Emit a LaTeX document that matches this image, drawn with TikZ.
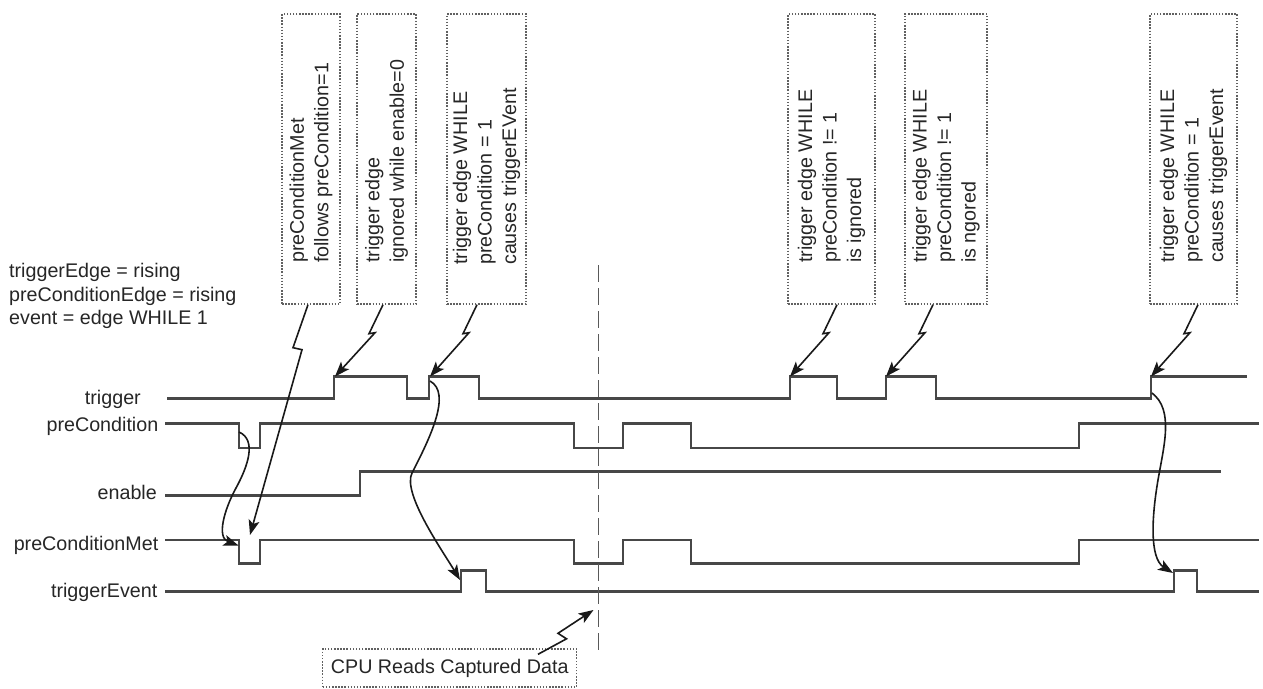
\documentclass[tikz,border=0pt]{standalone}
\usepackage{fontspec}
\setmainfont{Liberation Sans}
\usetikzlibrary{arrows.meta,calc}
\begin{document}
\begin{tikzpicture}[x=1pt,y=-1pt,
  wave/.style={draw=black!72, line width=2.1pt, line join=miter},
  txt/.style={font=\fontsize{19.7}{24.5}\selectfont, text=black!85, inner sep=0pt},
  callbox/.style={draw=black!62, line width=1.4pt, dash pattern=on 1.5pt off 1.6pt, inner sep=0pt, minimum height=290pt},
  ctext/.style={txt, rotate=90, anchor=west, align=left},
  ptr/.style={draw=black!90, line width=1.6pt, line join=miter, -{Stealth[length=15pt,width=11pt,inset=3.5pt]}},
  cpuline/.style={draw=black!65, line width=1.8pt, dash pattern=on 17pt off 6pt},
]
\useasboundingbox (0,0) rectangle (1263,688);

% ---------- notes ----------
\node[txt, anchor=base west, align=left, font=\fontsize{19.7}{23.5}\selectfont] (note) at (9,324.7)
  {triggerEdge = rising\\preConditionEdge = rising\\event = edge WHILE 1};

% ---------- signal labels ----------
\node[txt, anchor=base east] (ltrig) at (141,404.5) {trigger};
\node[txt, anchor=base east] (lpc) at (158.5,431.5) {preCondition};
\node[txt, anchor=base east] (len) at (157,499) {enable};
\node[txt, anchor=base east] (lpcm) at (158.5,550) {preConditionMet};
\node[txt, anchor=base east] (lte) at (157.5,597) {triggerEvent};

% ---------- waveforms ----------
\draw[wave] (167,398.5) -- (334,398.5) -- (334,376.5) -- (407,376.5) -- (407,398.5) -- (429,398.5) -- (429,376.5) -- (479,376.5) -- (479,398.5)
  -- (790,398.5) -- (790,376.5) -- (837,376.5) -- (837,398.5) -- (886,398.5) -- (886,376.5) -- (936,376.5) -- (936,398.5)
  -- (1151,398.5) -- (1151,376.5) -- (1247,376.5);
\draw[wave] (165,423.5) -- (239,423.5) -- (239,448) -- (260,448) -- (260,423.5) -- (574,423.5) -- (574,448) -- (623,448) -- (623,423.5)
  -- (691,423.5) -- (691,448) -- (1079,448) -- (1079,423.5) -- (1259,423.5);
\draw[wave] (165,495.5) -- (360,495.5) -- (360,471.5) -- (1221,471.5);
\draw[wave] (165,540) -- (239,540) -- (239,563.5) -- (260,563.5) -- (260,540) -- (574,540) -- (574,563.5) -- (623,563.5) -- (623,540)
  -- (691,540) -- (691,563.5) -- (1079,563.5) -- (1079,540) -- (1259,540);
\draw[wave] (165,591.5) -- (461,591.5) -- (461,570.5) -- (486,570.5) -- (486,591.5) -- (1174,591.5) -- (1174,570.5) -- (1197,570.5) -- (1197,591.5) -- (1259,591.5);

% ---------- key points on the waveforms ----------
\coordinate (e1) at (250,535);      % preConditionMet, arrow target
\coordinate (e2) at (335,376.5);    % trigger rise 1
\coordinate (e3) at (430,376.5);    % trigger rise 2
\coordinate (e4) at (790,376.5);    % trigger rise 3
\coordinate (e5) at (886,376.5);    % trigger rise 4
\coordinate (e6) at (1151,376.5);   % trigger rise 5
\coordinate (pcf) at (239,432);     % preCondition fall
\coordinate (pcmf) at (238.5,545.5);% preConditionMet fall
\coordinate (tr2) at (430,381);
\coordinate (te1) at (460,580);
\coordinate (tr5) at (1152,393);
\coordinate (te2) at (1173,573);

% ---------- capture line ----------
\coordinate (dtop) at (598.5,265);
\coordinate (dbot) at (598.5,652);
\draw[cpuline] (dtop) -- (dbot);
\coordinate (e7) at (593.5,610);

% ---------- callout boxes ----------
\node[callbox, minimum width=58pt] (b1) at (311,159) {};
\node[callbox, minimum width=59pt] (b2) at (386.5,159) {};
\node[callbox, minimum width=79pt] (b3) at (486.5,159) {};
\node[callbox, minimum width=87pt] (b4) at (831.5,159) {};
\node[callbox, minimum width=82pt] (b5) at (946,159) {};
\node[callbox, minimum width=87pt] (b6) at (1193.5,159) {};

\node[ctext] (t1) at (311,263) {preConditionMet\\follows preCondition=1};
\node[ctext] (t2) at (386.5,263) {trigger edge\\ignored while enable=0};
\node[ctext] (t3) at (486.5,265) {trigger edge WHILE\\preCondition = 1\\causes triggerEVent};
\node[ctext] (t4) at (831.5,263) {trigger edge WHILE\\preCondition != 1\\is ignored};
\node[ctext] (t5) at (946,263) {trigger edge WHILE\\preCondition != 1\\is ngored};
\node[ctext] (t6) at (1193.5,263) {trigger edge WHILE\\preCondition = 1\\causes triggerEvent};

\node[draw=black!62, line width=1.4pt, dash pattern=on 1.5pt off 1.6pt, txt, minimum width=254pt, minimum height=38pt] (cpu) at (449.7,668) {CPU Reads Captured Data};

% ---------- lightning connectors ----------
\coordinate (s1) at ([xshift=-3pt]b1.south);
\coordinate (s2) at ([xshift=-3.5pt]b2.south);
\coordinate (s3) at ([xshift=-9.5pt]b3.south);
\coordinate (s4) at ([xshift=5.5pt]b4.south);
\coordinate (s5) at ([xshift=-13pt]b5.south);
\coordinate (s6) at ([xshift=4.5pt]b6.south);
\coordinate (s7) at ([xshift=88.3pt,yshift=-6pt]cpu.north);

\draw[ptr] (s1) -- ++(-15,43) -- ++(9,2) -- (e1);
\foreach \i in {2,...,6} {
  \draw[ptr] (s\i) -- ++(-14,29) -- ++(6,-1) -- (e\i);
}
\draw[ptr] (s7) -- ++(28.5,-15.5) -- ++(-8.5,-5.5) -- (e7);

% ---------- cause/effect curves ----------
\draw[ptr] (pcf) .. controls +(18,8) and +(12,-22) .. (236,488) .. controls +(-12,22) and +(-22,-8) .. (pcmf);
\draw[ptr] (tr2) .. controls +(22,12) and +(18,-35) .. (412,473) .. controls +(-10,20) and +(-18,-30) .. (te1);
\draw[ptr] (tr5) .. controls +(22,17) and +(6,-35) .. (1158,480) .. controls +(-6,35) and +(-24,-15) .. (te2);

\end{tikzpicture}
\end{document}
